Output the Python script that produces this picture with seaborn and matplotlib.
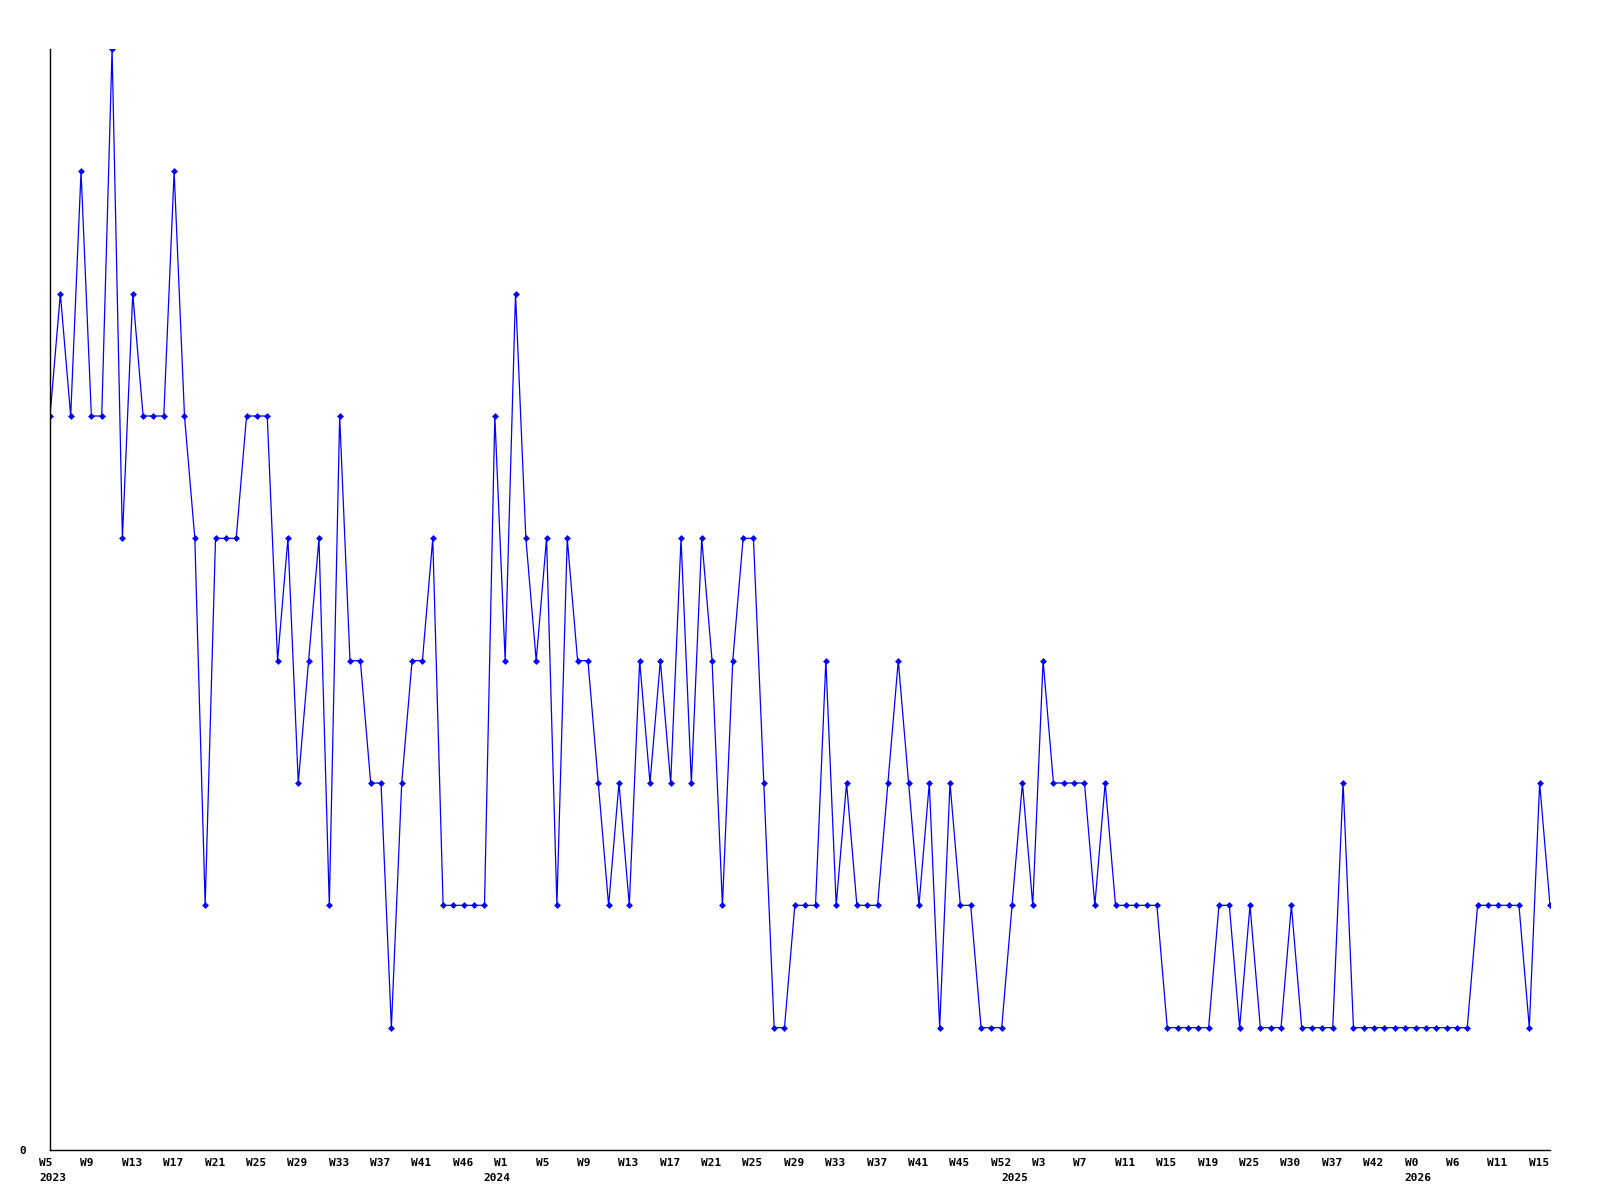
import matplotlib
matplotlib.use("Agg")
import matplotlib.pyplot as plt
import matplotlib.transforms as mtransforms
import seaborn as sns
import pandas as pd

# weekly counts, one point per sample, left to right
values = [
    6, 7, 6, 8, 6, 6, 9, 5, 7, 6,
    6, 6, 8, 6, 5, 2, 5, 5, 5, 6,
    6, 6, 4, 5, 3, 4, 5, 2, 6, 4,
    4, 3, 3, 1, 3, 4, 4, 5, 2, 2,
    2, 2, 2, 6, 4, 7, 5, 4, 5, 2,
    5, 4, 4, 3, 2, 3, 2, 4, 3, 4,
    3, 5, 3, 5, 4, 2, 4, 5, 5, 3,
    1, 1, 2, 2, 2, 4, 2, 3, 2, 2,
    2, 3, 4, 3, 2, 3, 1, 3, 2, 2,
    1, 1, 1, 2, 3, 2, 4, 3, 3, 3,
    3, 2, 3, 2, 2, 2, 2, 2, 1, 1,
    1, 1, 1, 2, 2, 1, 2, 1, 1, 1,
    2, 1, 1, 1, 1, 3, 1, 1, 1, 1,
    1, 1, 1, 1, 1, 1, 1, 1, 2, 2,
    2, 2, 2, 1, 3, 2,
]

# label on every 4th point
week_labels = [
    "W5", "W9", "W13", "W17", "W21", "W25", "W29", "W33", "W37", "W41", "W46",
    "W1", "W5", "W9", "W13", "W17", "W21", "W25", "W29", "W33", "W37", "W41", "W45", "W52",
    "W3", "W7", "W11", "W15", "W19", "W25", "W30", "W37", "W42",
    "W0", "W6", "W11", "W15",
]

# year text and the point where each year starts
years = ["2023", "2024", "2025", "2026"]
year_start = [0, 43, 93, 132]

sns.set_style("white")
plt.rcParams["font.family"] = ["DejaVu Sans Mono"]
plt.rcParams["font.weight"] = "bold"

fig = plt.figure(figsize=(16, 12), dpi=100)
ax = fig.add_axes([50 / 1600, 1 - 1150 / 1200, 1500 / 1600, 1101 / 1200])

df = pd.DataFrame({"idx": range(len(values)), "val": values})
sns.lineplot(data=df, x="idx", y="val", color="#0000ff", lw=0.9,
             marker="D", markersize=3.5, markeredgewidth=0, ax=ax)

ax.set_xlim(0, len(values) - 1)
ax.set_ylim(0, 9)
ax.set_xlabel("")
ax.set_ylabel("")

ax.set_xticks(range(0, len(values), 4))
ax.set_xticklabels(week_labels)
ax.set_yticks([0])
ax.set_yticklabels(["0"])
ax.tick_params(length=0, labelsize=8, colors="black")
ax.tick_params(axis="x", pad=5.5)
ax.tick_params(axis="y", pad=17)

# labels start a little left of their point
shift = mtransforms.ScaledTranslation(-11 / 100, 0, fig.dpi_scale_trans)
for lab in ax.get_xticklabels():
    lab.set_horizontalalignment("left")
    lab.set_transform(lab.get_transform() + shift)

# year line under the week labels
trans = mtransforms.blended_transform_factory(ax.transData, ax.transAxes)
year_shift = mtransforms.ScaledTranslation(-11 / 100, -23 / 100, fig.dpi_scale_trans)
for yr, pos in zip(years, year_start):
    ax.text(pos, 0, yr, transform=trans + year_shift, ha="left", va="top",
            fontsize=8, fontweight="bold", color="black")

sns.despine(ax=ax)
for side in ["left", "bottom"]:
    ax.spines[side].set_color("black")
    ax.spines[side].set_linewidth(1.0)

fig.savefig("out.png", dpi=100, facecolor="white")
